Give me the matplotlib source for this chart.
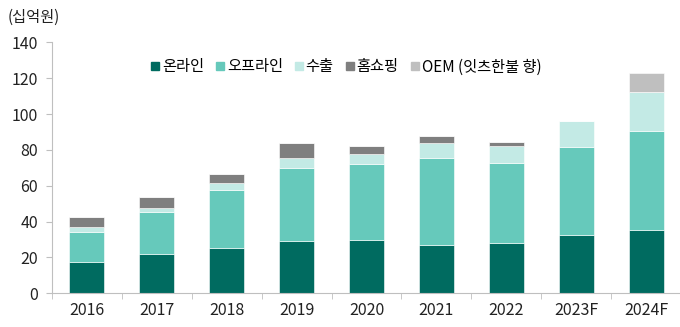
import matplotlib
matplotlib.use("Agg")
import matplotlib.pyplot as plt
from matplotlib.lines import Line2D
import numpy as np

plt.rcParams['font.family'] = ['Noto Sans CJK KR', 'DejaVu Sans']

years = ["2016", "2017", "2018", "2019", "2020", "2021", "2022", "2023F", "2024F"]
online = [17.6, 21.9, 25.4, 29.2, 29.7, 26.8, 28.2, 32.7, 35.3]
offline = [16.8, 23.3, 32.0, 40.7, 42.2, 48.7, 44.5, 49.1, 55.4]
export = [2.7, 2.6, 4.1, 5.7, 5.6, 8.5, 9.3, 14.3, 21.6]
homeshopping = [5.3, 5.7, 5.0, 8.0, 4.7, 3.7, 2.4, 0.0, 0.0]
oem = [0, 0, 0, 0, 0, 0, 0, 0, 10.6]

labels = ["온라인", "오프라인", "수출", "홈쇼핑", "OEM (잇츠한불 향)"]
colors = ["#006B60", "#66C9BB", "#C3EAE5", "#7F7F7F", "#BFBFBF"]
series = [online, offline, export, homeshopping, oem]

fig = plt.figure(figsize=(6.8, 3.27), dpi=100)
ax = fig.add_axes([52/680, (327-293.3)/327, (681-52)/680, 251/327])

x = np.arange(len(years))
bottom = np.zeros(len(years))
for vals, c in zip(series, colors):
    v = np.array(vals, dtype=float)
    ax.bar(x, v, bottom=bottom, width=0.5, color=c, edgecolor='white', linewidth=0.4)
    bottom += v

ax.set_xlim(-0.5, len(years) - 0.5)
ax.set_ylim(0, 140)
ax.set_yticks(np.arange(0, 141, 20))
ax.set_xticks(x)
ax.set_xticklabels(years)
ax.set_xticks(np.arange(-0.5, len(years), 1), minor=True)
ax.tick_params(axis='x', which='major', length=0, labelsize=11.5, colors='#222222', pad=6)
ax.tick_params(axis='x', which='minor', length=4, color='#BFBFBF', direction='out')
ax.tick_params(axis='y', length=4, color='#BFBFBF', labelsize=11.5, labelcolor='#222222', pad=6)

for s in ['top', 'right']:
    ax.spines[s].set_visible(False)
for s in ['left', 'bottom']:
    ax.spines[s].set_color('#BFBFBF')
    ax.spines[s].set_linewidth(0.8)

handles = [Line2D([0], [0], marker='s', linestyle='none', markersize=6,
                  markerfacecolor=c, markeredgecolor=c) for c in colors]
fig.legend(handles, labels, loc='center', bbox_to_anchor=(345/680, 1 - 67/327),
           ncol=5, frameon=False, fontsize=11, handletextpad=0.05,
           columnspacing=0.65, handlelength=0.8)

fig.text(8/680, 1 - 17/327, "(십억원)", fontsize=11, va='center', ha='left', color='#222222')

fig.savefig("out.png", dpi=100)
